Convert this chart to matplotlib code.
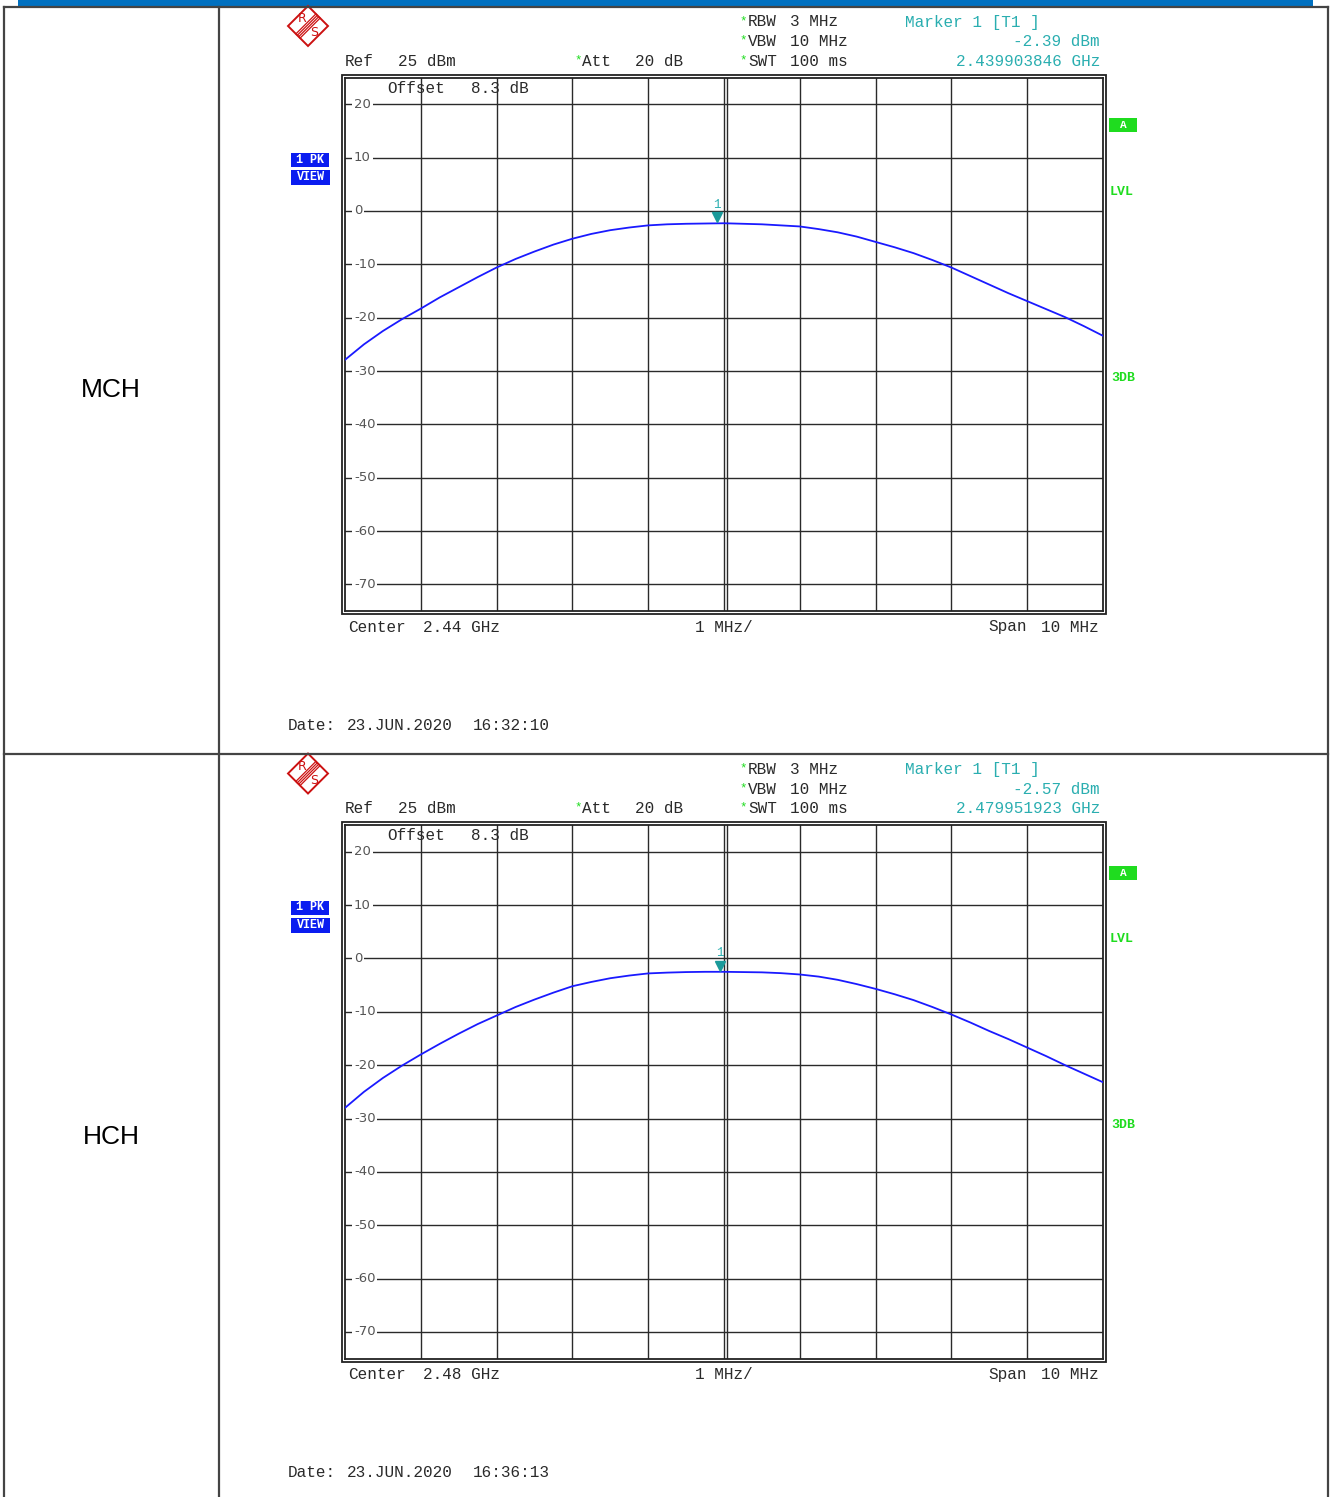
import matplotlib.pyplot as plt
from matplotlib.patches import Polygon, Rectangle
from matplotlib.transforms import offset_copy

W, H = 1333, 1497

# channel data
channel_labels = ["MCH", "HCH"]
center_text = ["2.44 GHz", "2.48 GHz"]
center_mhz = [2440.0, 2480.0]
span_mhz = 10.0
offset_mhz = [-5.0, -4.75, -4.5, -4.25, -4.0, -3.75, -3.5, -3.25, -3.0, -2.75, -2.5,
              -2.25, -2.0, -1.75, -1.5, -1.25, -1.0, -0.75, -0.5, -0.25, 0.0,
              0.25, 0.5, 0.75, 1.0, 1.25, 1.5, 1.75, 2.0, 2.25, 2.5,
              2.75, 3.0, 3.25, 3.5, 3.75, 4.0, 4.25, 4.5, 4.75, 5.0]
trace_mch = [-27.9, -25.0, -22.5, -20.3, -18.3, -16.2, -14.3, -12.4, -10.6, -9.0, -7.6,
             -6.3, -5.2, -4.3, -3.6, -3.1, -2.7, -2.5, -2.4, -2.35, -2.3,
             -2.4, -2.5, -2.7, -2.9, -3.4, -4.0, -4.8, -5.8, -6.8, -7.9,
             -9.2, -10.6, -12.2, -13.8, -15.4, -16.9, -18.4, -19.9, -21.6, -23.4]
trace_hch = [-28.0, -25.0, -22.4, -20.1, -18.0, -16.0, -14.1, -12.3, -10.7, -9.1, -7.7,
             -6.4, -5.2, -4.4, -3.7, -3.2, -2.8, -2.65, -2.55, -2.5, -2.5,
             -2.55, -2.6, -2.75, -3.0, -3.4, -4.0, -4.8, -5.7, -6.7, -7.8,
             -9.1, -10.5, -12.0, -13.6, -15.1, -16.7, -18.3, -20.0, -21.6, -23.2]
traces = [trace_mch, trace_hch]
marker_freq_ghz = ["2.439903846", "2.479951923"]
marker_level = [-2.39, -2.57]
dates = ["23.JUN.2020", "23.JUN.2020"]
times = ["16:32:10", "16:36:13"]
ref_level = 25
bottom_level = -75
grid_levels = [20, 10, 0, -10, -20, -30, -40, -50, -60, -70]

MONO = "Liberation Mono"
TXT = "#2a2a2a"
CYAN = "#2aaeb0"
GREEN = "#1fdc1f"
BLUE = "#0a1cf0"
RED = "#cc1111"

fig = plt.figure(figsize=(W / 100, H / 100), dpi=100)
bg = fig.add_axes([0, 0, 1, 1])
bg.set_xlim(0, W)
bg.set_ylim(H, 0)
bg.axis("off")

# table frame
bg.add_patch(Rectangle((18, 0), 1295, 6, color="#0070c0", lw=0))
lc = dict(color="#444444", lw=1.6)
bg.plot([4, 1328], [6.5, 6.5], **lc)
bg.plot([4, 1328], [753.5, 753.5], **lc)
for x in [4, 219, 1328]:
    bg.plot([x, x], [6.5, H], **lc)


def mono(x, y, s, color=TXT, ha="left", size=11.5, **kw):
    bg.text(x, y, s, color=color, ha=ha, va="center", family=MONO, fontsize=size, **kw)


for i in range(2):
    dy = i * 747.5
    cm = center_mhz[i]

    # row label
    bg.text(111, 390 + dy, channel_labels[i], ha="center", va="center",
            family="Liberation Sans", fontsize=19, color="black")

    # R&S logo
    bg.add_patch(Polygon([(288, 26 + dy), (308, 6 + dy), (328, 26 + dy), (308, 46 + dy)],
                         closed=True, fill=False, edgecolor=RED, lw=1.4))
    for s in [-2.1, -0.7, 0.7, 2.1]:
        bg.plot([298 + s, 318 + s], [36 + dy + s, 16 + dy + s], color=RED, lw=0.9)
    bg.text(302, 19 + dy, "R", color=RED, fontsize=9, ha="center", va="center",
            family="DejaVu Sans")
    bg.text(314, 33 + dy, "S", color=RED, fontsize=9, ha="center", va="center",
            family="DejaVu Sans")

    # header
    mono(345, 61 + dy, "Ref")
    mono(398, 61 + dy, "25 dBm")
    mono(574, 60 + dy, "*", color=GREEN, size=9)
    mono(582, 61 + dy, "Att")
    mono(635, 61 + dy, "20 dB")
    for row, (name, val) in enumerate([("RBW", "3 MHz"), ("VBW", "10 MHz"), ("SWT", "100 ms")]):
        yy = 22 + row * 19.5 + dy
        mono(739, yy - 1, "*", color=GREEN, size=9)
        mono(748, yy, name)
        mono(790, yy, val)
    mono(905, 22 + dy, "Marker 1 [T1 ]", color=CYAN)
    mono(1100, 42 + dy, f"{marker_level[i]:.2f} dBm", color=CYAN, ha="right")
    mono(1100, 61 + dy, f"{marker_freq_ghz[i]} GHz", color=CYAN, ha="right")

    # side boxes
    bg.add_patch(Rectangle((291, 153 + dy), 38, 14, color=BLUE, lw=0))
    bg.add_patch(Rectangle((291, 170 + dy), 39, 15, color=BLUE, lw=0))
    mono(310, 160 + dy, "1 PK", color="white", ha="center", size=8.5, fontweight="bold")
    mono(310.5, 177.5 + dy, "VIEW", color="white", ha="center", size=8.5, fontweight="bold")
    bg.add_patch(Rectangle((1109, 118 + dy), 28, 14, color=GREEN, lw=0))
    mono(1123, 125 + dy, "A", color="white", ha="center", size=8, fontweight="bold")
    mono(1110, 192 + dy, "LVL", color=GREEN, size=9.5, fontweight="bold")
    mono(1111, 378 + dy, "3DB", color=GREEN, size=9.5, fontweight="bold")

    # footer
    mono(348, 627 + dy, "Center")
    mono(423, 627 + dy, center_text[i])
    mono(724, 627 + dy, "1 MHz/", ha="center")
    mono(988, 627 + dy, "Span")
    mono(1099, 627 + dy, f"{span_mhz:.0f} MHz", ha="right")
    mono(288, 725 + dy, "Date:")
    mono(347, 725 + dy, dates[i])
    mono(473, 725 + dy, times[i])

    # analyzer screen
    top_px = 77.6 + dy
    h_px = 533.5
    ax = fig.add_axes([345 / W, 1 - (top_px + h_px) / H, 758 / W, h_px / H])
    ax.set_xlim(cm - span_mhz / 2, cm + span_mhz / 2)
    ax.set_ylim(bottom_level, ref_level)
    ax.set_xticks([])
    ax.set_yticks([])
    for sp in ax.spines.values():
        sp.set_color("#222222")
        sp.set_linewidth(1.3)
    ax.add_patch(Rectangle((-2.6 / 758, -3 / h_px), 1 + 5.2 / 758, 1 + 5.6 / h_px,
                           transform=ax.transAxes, fill=False, edgecolor="#222222",
                           lw=1.3, clip_on=False))

    for k in range(1, 10):
        ax.axvline(cm - span_mhz / 2 + k, color="#2a2a2a", lw=1.0, zorder=1)
    ax.plot([cm, cm], [0, 1], color="#2a2a2a", lw=1.0, zorder=1,
            transform=offset_copy(ax.get_xaxis_transform(), fig=fig, x=2.0, units="points"))
    for lv in grid_levels:
        ax.axhline(lv, color="#2a2a2a", lw=1.0, zorder=1)
        ax.text(9 / 758, lv, str(lv), transform=ax.get_yaxis_transform(), ha="left",
                va="center", fontsize=9.5, color="#555555", family="DejaVu Sans", zorder=2,
                bbox=dict(facecolor="white", edgecolor="none", pad=1.2))

    ax.text(42 / 758, 1 - 10.5 / h_px, "Offset", transform=ax.transAxes, ha="left",
            va="center", family=MONO, fontsize=11.5, color=TXT, zorder=0.5)
    ax.text(126 / 758, 1 - 10.5 / h_px, "8.3 dB", transform=ax.transAxes, ha="left",
            va="center", family=MONO, fontsize=11.5, color=TXT, zorder=0.5)

    freqs = [cm + o for o in offset_mhz]
    ax.plot(freqs, traces[i], color="#1a1aff", lw=1.3, zorder=3)

    mf = float(marker_freq_ghz[i]) * 1000
    ax.plot([mf], [marker_level[i]], marker="v", color="#1a9a9a", markersize=6.5, zorder=4,
            transform=offset_copy(ax.transData, fig=fig, y=4.5, units="points"))
    ax.text(mf, marker_level[i], "1", color=CYAN, fontsize=9, family=MONO, ha="center",
            va="center", zorder=4,
            transform=offset_copy(ax.transData, fig=fig, y=13.5, units="points"))

fig.savefig("out.png", dpi=100)
